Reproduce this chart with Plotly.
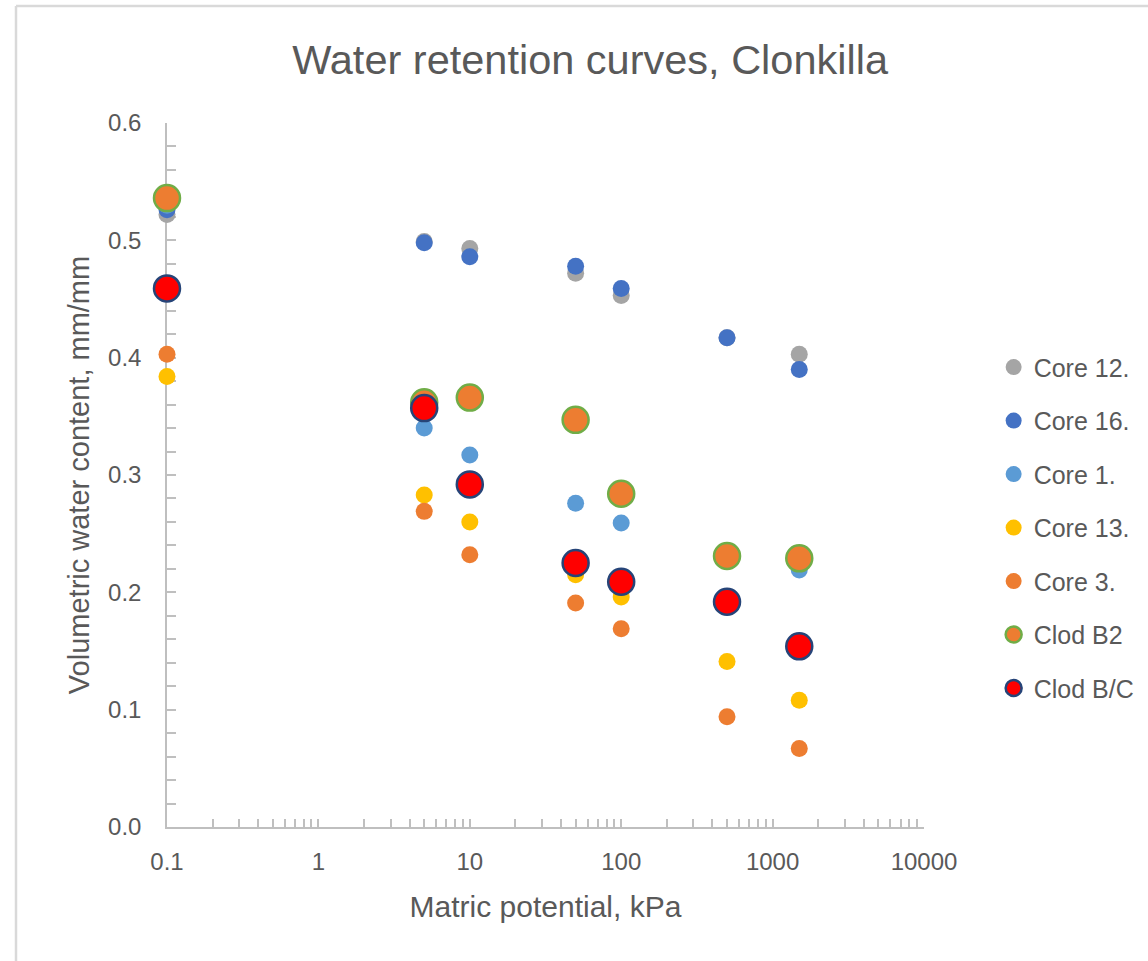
import plotly.graph_objects as go

# ---- data ----
x_kpa = [0.1, 5, 10, 50, 100, 500, 1500]
core12 = [0.522, 0.499, 0.493, 0.472, 0.453, 0.417, 0.403]
core16 = [0.526, 0.498, 0.486, 0.478, 0.459, 0.417, 0.390]
core1 = [0.530, 0.340, 0.317, 0.276, 0.259, 0.230, 0.219]
core13 = [0.384, 0.283, 0.260, 0.215, 0.196, 0.141, 0.108]
core3 = [0.403, 0.269, 0.232, 0.191, 0.169, 0.094, 0.067]
clod_b2 = [0.536, 0.362, 0.366, 0.347, 0.284, 0.231, 0.229]
clod_bc = [0.459, 0.357, 0.292, 0.225, 0.209, 0.192, 0.154]

x_tickvals = [0.1, 1, 10, 100, 1000, 10000]
x_ticktext = ["0.1", "1", "10", "100", "1000", "10000"]
y_tickvals = [0.0, 0.1, 0.2, 0.3, 0.4, 0.5, 0.6]

FONT = "Liberation Sans, Arial, sans-serif"
TXT = "#595959"
AX = "#bfbfbf"

series = [
    ("Core 12.", core12, "#A5A5A5", None, 17),
    ("Core 16.", core16, "#4472C4", None, 17),
    ("Core 1.", core1, "#5B9BD5", None, 17),
    ("Core 13.", core13, "#FFC000", None, 17),
    ("Core 3.", core3, "#ED7D31", None, 17),
    ("Clod B2", clod_b2, "#ED7D31", "#70AD47", 26),
    ("Clod B/C", clod_bc, "#FF0000", "#264478", 26),
]

fig = go.Figure()
for i, (name, vals, fill, edge, size) in enumerate(series):
    fig.add_trace(go.Scatter(
        x=x_kpa, y=vals, mode="markers", name=name, legendgroup=f"g{i}",
        cliponaxis=False,
        marker=dict(color=fill, size=size,
                    line=dict(color=edge if edge else fill, width=2.5 if edge else 0)),
    ))

fig.update_layout(
    width=1148, height=961,
    margin=dict(l=167, r=224, t=123, b=134, autoexpand=False),
    paper_bgcolor="white", plot_bgcolor="white",
    font=dict(family=FONT, color=TXT, size=24),
    title=dict(text="Water retention curves, Clonkilla", x=0.514, xanchor="center",
               y=0.938, yanchor="middle", font=dict(size=41.5, color=TXT, family=FONT)),
    legend=dict(x=1.092, xanchor="left", y=0.425, yanchor="middle",
                font=dict(size=25, color=TXT, family=FONT), tracegroupgap=18,
                bgcolor="rgba(0,0,0,0)"),
    showlegend=True,
)

fig.update_xaxes(
    type="log", range=[-1, 4], tickvals=x_tickvals, ticktext=x_ticktext,
    showgrid=False, zeroline=False, showline=True, linecolor=AX, linewidth=1.5,
    ticks="inside", ticklen=8, tickcolor=AX, tickwidth=1.5, layer="below traces",
    minor=dict(ticks="inside", ticklen=8, tickcolor=AX, tickwidth=1.5, dtick="D1", showgrid=False),
    ticklabelstandoff=12, tickfont=dict(size=24),
    title=dict(text="Matric potential, kPa", font=dict(size=30, color=TXT, family=FONT), standoff=22),
)
fig.update_yaxes(
    range=[0, 0.6], tickvals=y_tickvals, tickformat=".1f",
    showgrid=False, zeroline=False, showline=True, linecolor=AX, linewidth=1.5,
    ticks="inside", ticklen=9, tickcolor=AX, tickwidth=1.5, layer="below traces",
    minor=dict(ticks="inside", ticklen=9, tickcolor=AX, tickwidth=1.5, dtick=0.02, showgrid=False),
    ticklabelstandoff=19, tickfont=dict(size=24),
    title=dict(text="Volumetric water content, mm/mm", font=dict(size=29, color=TXT, family=FONT), standoff=10),
)

# outer chart frame (top and left edges visible)
fig.add_shape(type="line", xref="paper", yref="paper",
              x0=(16 - 167) / 757, x1=1.6, y0=(827 - 6) / 704, y1=(827 - 6) / 704,
              line=dict(color="#d9d9d9", width=2.5))
fig.add_shape(type="line", xref="paper", yref="paper",
              x0=(16 - 167) / 757, x1=(16 - 167) / 757, y0=-0.5, y1=(827 - 6) / 704,
              line=dict(color="#d9d9d9", width=2.5))

fig.write_html("out.html")
